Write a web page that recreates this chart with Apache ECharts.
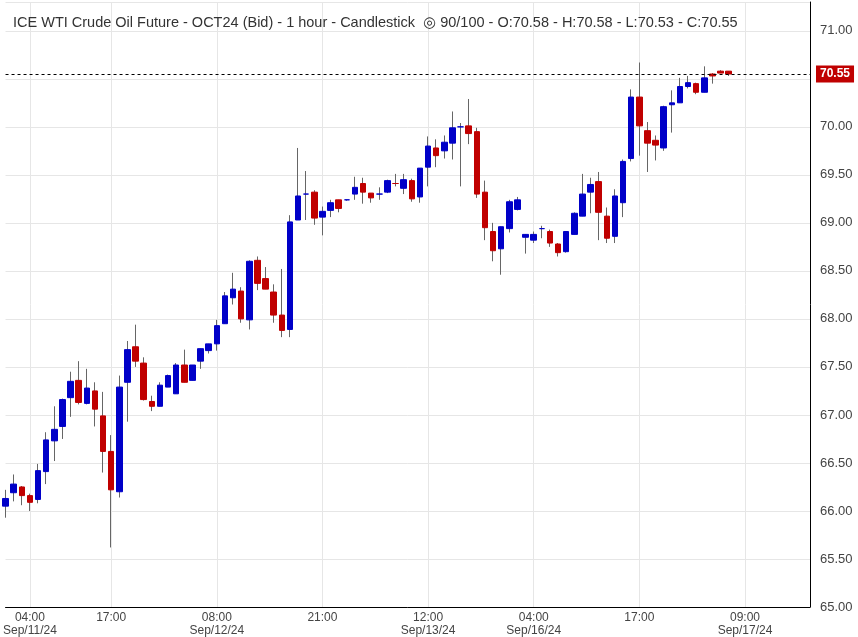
<!DOCTYPE html>
<html>
<head>
<meta charset="UTF-8">
<script src="https://cdn.jsdelivr.net/npm/echarts@6/dist/echarts.min.js"></script>
</head>
<body style="margin:0">
<div id="main" style="width:858px;height:637px;"></div>
<script>
// hourly OHLC, weekend gap removed
var opens  = [66.05,66.19,66.25,66.16,66.12,66.41,66.73,66.88,67.18,67.36,67.12,67.25,66.99,66.62,66.20,67.34,67.71,67.54,67.14,67.09,67.29,67.22,67.52,67.36,67.56,67.67,67.74,67.95,68.22,68.29,67.99,68.61,68.42,68.28,68.04,67.89,69.03,69.30,69.32,69.06,69.13,69.24,69.24,69.30,69.41,69.31,69.30,69.32,69.41,69.36,69.44,69.27,69.58,69.78,69.75,69.83,70.00,70.01,69.95,69.32,68.91,68.73,68.94,69.14,68.85,68.82,68.94,68.91,68.78,68.70,68.88,69.07,69.32,69.43,69.07,68.86,69.21,69.67,70.31,69.96,69.86,69.78,70.23,70.25,70.42,70.45,70.36,70.55,70.58,70.58];
var highs  = [66.22,66.38,66.26,66.18,66.49,66.82,67.09,67.17,67.45,67.56,67.48,67.34,67.24,66.79,67.41,67.77,67.94,67.60,67.20,67.34,67.42,67.54,67.68,67.52,67.69,67.74,67.99,68.28,68.48,68.33,68.61,68.65,68.54,68.36,68.52,69.08,69.78,69.54,69.34,69.17,69.24,69.24,69.24,69.48,69.47,69.31,69.37,69.45,69.51,69.51,69.46,69.57,69.90,69.87,69.91,70.16,70.04,70.29,69.99,69.44,69.00,68.96,69.24,69.27,68.88,68.91,68.97,68.93,68.79,68.91,69.11,69.51,69.47,69.53,69.16,69.35,69.66,70.39,70.67,70.05,69.91,70.22,70.38,70.51,70.53,70.46,70.63,70.56,70.59,70.58];
var lows   = [65.93,66.10,66.06,66.00,66.08,66.28,66.52,66.75,66.98,67.11,67.11,66.88,66.40,65.62,66.14,66.93,67.50,67.15,67.04,67.09,67.29,67.22,67.34,67.36,67.48,67.64,67.67,67.95,68.15,67.96,67.89,68.30,68.31,67.96,67.81,67.81,69.03,69.03,68.98,68.87,69.06,69.11,69.23,69.24,69.20,69.21,69.24,69.31,69.38,69.30,69.22,69.21,69.38,69.58,69.67,69.66,69.38,69.82,69.26,68.82,68.60,68.46,68.90,69.13,68.68,68.79,68.84,68.75,68.65,68.69,68.88,69.07,69.10,68.82,68.79,68.79,69.06,69.64,69.70,69.53,69.65,69.75,69.94,70.25,70.40,70.34,70.36,70.45,70.56,70.53];
var closes = [66.13,66.28,66.16,66.09,66.42,66.74,66.85,67.16,67.35,67.13,67.28,67.06,66.62,66.22,67.29,67.68,67.56,67.16,67.09,67.31,67.41,67.52,67.34,67.52,67.69,67.74,67.93,68.24,68.31,68.00,68.60,68.37,68.31,68.04,67.88,69.01,69.28,69.30,69.05,69.12,69.21,69.15,69.24,69.37,69.32,69.26,69.30,69.44,69.41,69.45,69.25,69.57,69.80,69.70,69.84,69.99,70.00,69.93,69.30,68.95,68.71,68.96,69.22,69.24,68.88,68.88,68.94,68.79,68.69,68.91,69.10,69.30,69.40,69.11,68.84,69.28,69.64,70.31,70.01,69.83,69.81,70.21,70.25,70.42,70.46,70.36,70.51,70.53,70.56,70.55];
var totalSlots = 100;
var tickLabels = {3:'04:00\nSep/11/24',13:'17:00',26:'08:00\nSep/12/24',39:'21:00',52:'12:00\nSep/13/24',65:'04:00\nSep/16/24',78:'17:00',91:'09:00\nSep/17/24'};
var lastPrice = 70.55;

var cats = [];
for (var i = 0; i < totalSlots; i++) cats.push(String(i));
var wicks = opens.map(function (o, i) { return [o, closes[i], lows[i], highs[i]]; });
var bodies = opens.map(function (o, i) {
  return [o, closes[i], Math.min(o, closes[i]), Math.max(o, closes[i])];
});
var showTick = function (idx) { return tickLabels[idx] !== undefined; };

var chart = echarts.init(document.getElementById('main'));
chart.setOption({
  animation: false,
  textStyle: {fontFamily: 'Liberation Sans, Arial'},
  title: {
    text: 'ICE WTI Crude Oil Future - OCT24 (Bid) - 1 hour - Candlestick  \u25CE 90/100 - O:70.58 - H:70.58 - L:70.53 - C:70.55',
    left: 8, top: 10,
    textStyle: {fontSize: 14.5, fontWeight: 'normal', color: '#333'}
  },
  grid: {left: 2, width: 808, top: 2, bottom: 28},
  xAxis: {
    type: 'category', data: cats, boundaryGap: false,
    axisLine: {show: true, lineStyle: {color: '#000'}},
    axisTick: {show: false},
    axisLabel: {interval: showTick, formatter: function (v) { return tickLabels[+v] || ''; },
      color: '#444', fontSize: 12, lineHeight: 13, margin: 4},
    splitLine: {show: true, interval: showTick, lineStyle: {color: '#e6e6e6'}}
  },
  yAxis: {
    type: 'value', position: 'right', min: 65, max: 71.3, interval: 0.5,
    axisLine: {show: true, lineStyle: {color: '#000'}},
    axisTick: {show: false},
    axisLabel: {showMaxLabel: false, color: '#444', fontSize: 13, margin: 10,
      formatter: function (v) { return v.toFixed(2); }},
    splitLine: {lineStyle: {color: '#e6e6e6'}}
  },
  series: [{
    type: 'candlestick', data: wicks, barWidth: 1, clip: false,
    itemStyle: {color: '#666', color0: '#666', borderColor: '#666', borderColor0: '#666', borderWidth: 1},
    markLine: {
      symbol: 'none', silent: true,
      data: [{yAxis: lastPrice}],
      lineStyle: {color: '#000', type: [3, 3], width: 1},
      label: {position: 'end', formatter: lastPrice.toFixed(2), color: '#fff', fontWeight: 'bold',
        fontSize: 12, backgroundColor: '#c00000', padding: [3, 4, 2, 4], distance: 6}
    }
  }, {
    type: 'candlestick', data: bodies, barWidth: 6, clip: false,
    itemStyle: {color: '#0000c8', color0: '#c00000', borderColor: '#0000c8', borderColor0: '#c00000', borderWidth: 1}
  }]
});
</script>
</body>
</html>
